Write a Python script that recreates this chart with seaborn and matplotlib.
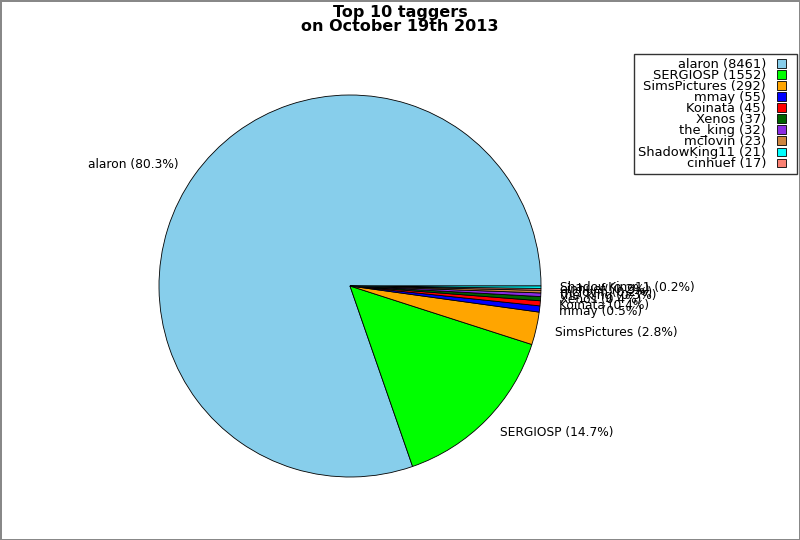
import matplotlib
matplotlib.use("Agg")
import matplotlib.pyplot as plt
import matplotlib.patches as mpatches
from matplotlib.legend_handler import HandlerPatch
import seaborn as sns

# pie (drawing) order
names = ["alaron", "SERGIOSP", "SimsPictures", "mmay", "Koinata", "Xenos",
         "the_king", "mclovin", "cinhuef", "ShadowKing11"]
counts = [8461, 1552, 292, 55, 45, 37, 32, 23, 17, 21]
colors = ["#87CEEB", "#00FF00", "#FFA500", "#0000FF", "#FF0000", "#006400",
          "#8A2BE2", "#CD853F", "#FA8072", "#00FFFF"]

sns.set_theme(style="white")
plt.rcParams['font.family'] = ['DejaVu Sans']
plt.rcParams['text.color'] = 'black'

total = sum(counts)
pie_labels = [f"{n} ({c / total * 100:.1f}%)" for n, c in zip(names, counts)]

fig = plt.figure(figsize=(8, 5.4), dpi=100)
fig.patch.set_edgecolor("#888888")
fig.patch.set_linewidth(2)

r = 191
ax = fig.add_axes([(350 - r) / 800, (540 - 286 - r) / 540, 2 * r / 800, 2 * r / 540])
wedges, texts = ax.pie(counts, labels=pie_labels, colors=colors, startangle=0,
                       counterclock=True, labeldistance=1.1,
                       wedgeprops=dict(edgecolor="black", linewidth=0.6),
                       textprops=dict(fontsize=8.8, color="black"))
ax.set_xlim(-1, 1)
ax.set_ylim(-1, 1)
ax.set_aspect("equal")
ax.set_axis_off()

fig.suptitle("Top 10 taggers\non October 19th 2013", fontsize=11.5,
             fontweight="bold", y=0.99, linespacing=0.9, color="black")


def small_square(legend, orig_handle, xdescent, ydescent, width, height, fontsize):
    s = 0.64 * fontsize
    return mpatches.Rectangle((-xdescent, -ydescent + (height - s) / 2), s, s)


# legend sorted by count, descending
order = sorted(range(len(counts)), key=lambda i: -counts[i])
leg = fig.legend([wedges[i] for i in order],
                 [f"{names[i]} ({counts[i]})" for i in order],
                 loc="upper right", bbox_to_anchor=(0.996, 0.9),
                 fontsize=9.4, markerfirst=False,
                 frameon=True, fancybox=False, edgecolor="black",
                 handlelength=1.2, handleheight=0.7, labelspacing=-0.15,
                 borderpad=0.3, handletextpad=0.85, borderaxespad=0.0,
                 alignment="right",
                 handler_map={mpatches.Wedge: HandlerPatch(patch_func=small_square)})
for t in leg.get_texts():
    t.set_ha("right")
    t.set_color("black")
leg.get_frame().set_linewidth(1.0)
for h in leg.legend_handles:
    h.set_edgecolor("black")
    h.set_linewidth(0.6)

fig.savefig("out.png", dpi=100, edgecolor=fig.get_edgecolor())
